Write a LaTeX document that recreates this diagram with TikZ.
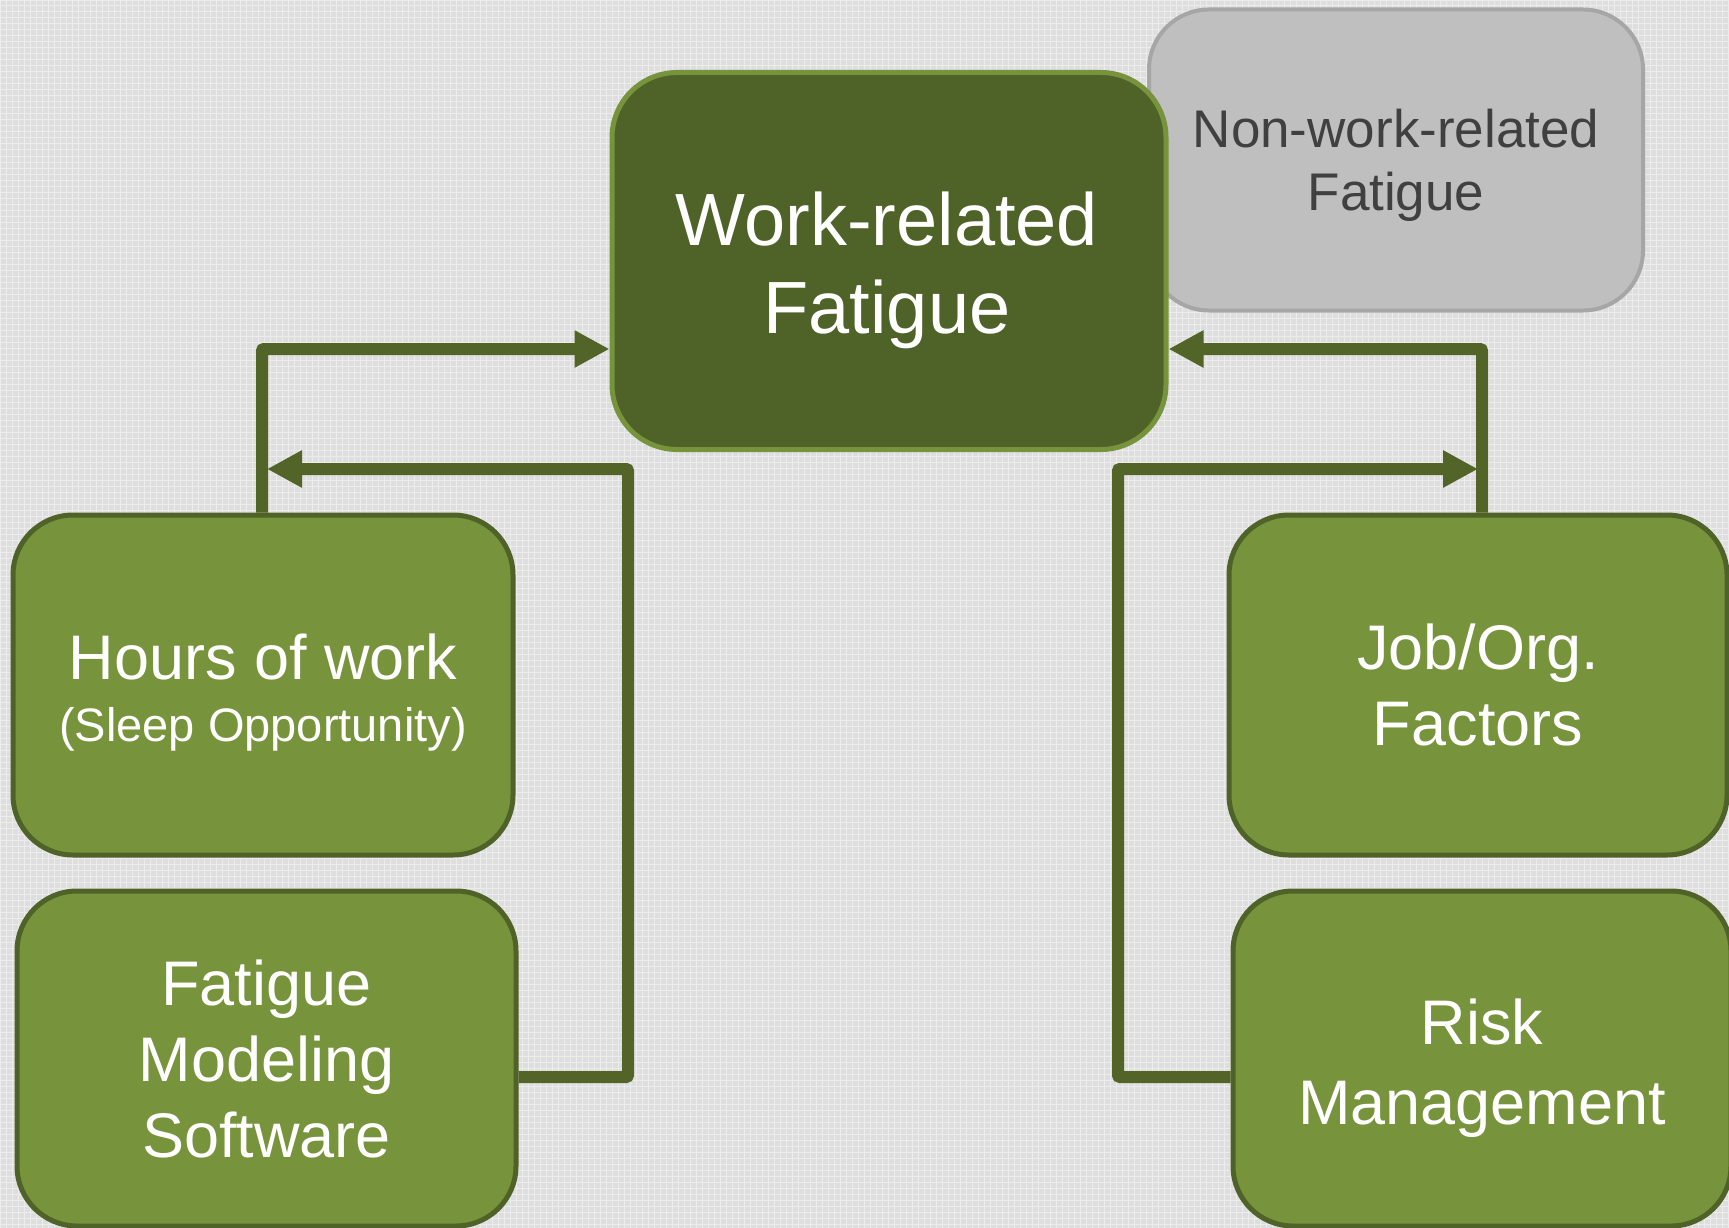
\documentclass[tikz,border=0pt]{standalone}
\usepackage{fontspec}
\setmainfont{Liberation Sans}
\usetikzlibrary{arrows.meta,calc}
\definecolor{darkol}{HTML}{4F6228}
\definecolor{midgr}{HTML}{77933C}
\definecolor{conncol}{HTML}{526428}
\definecolor{bggray}{HTML}{DEDEDE}
\definecolor{nwfill}{HTML}{BFBFBF}
\definecolor{nwdraw}{HTML}{A6A6A6}
\definecolor{nwtext}{HTML}{404040}
\begin{document}
\begin{tikzpicture}[x=1pt,y=-1pt,
  box/.style={rounded corners=60pt, line width=5pt, inner sep=0pt},
  greenbox/.style={box, fill=midgr, draw=darkol},
  txt/.style={align=center, inner sep=0pt, text=white},
  conn/.style={draw=conncol, line width=12pt, rounded corners=2pt, -{Triangle[length=35pt,width=35pt]}}]
\useasboundingbox (0,0) rectangle (1729,1228);
\fill[bggray] (0,0) rectangle (1729,1228);
\draw[white, opacity=0.45, line width=1pt, step=6pt] (0,0) grid (1729,1228);

% boxes
\node[box, fill=nwfill, draw=nwdraw, line width=4pt,
      minimum width=494pt, minimum height=301pt] (nonwork) at (1396,160) {};
\node[box, fill=darkol, draw=midgr, rounded corners=65pt,
      minimum width=554pt, minimum height=377pt] (work) at (889,261) {};
\node[greenbox, minimum width=500pt, minimum height=340pt] (hours) at (263,685) {};
\node[greenbox, minimum width=499pt, minimum height=335pt] (model) at (266.5,1058.5) {};
\node[greenbox, minimum width=498pt, minimum height=340pt] (job) at (1478,685) {};
\node[greenbox, minimum width=498pt, minimum height=335pt] (risk) at (1482,1058.5) {};

% texts
\node[txt, text=nwtext, font=\fontsize{53}{63}\selectfont] (nonworktxt)
      at ($(nonwork.center)+(0,5)$) {Non-work-related\\Fatigue};
\node[txt, font=\fontsize{74}{88}\selectfont] (worktxt)
      at ($(work.center)+(-2,9)$) {Work-related\\Fatigue};
\node[txt, font=\fontsize{63}{62}\selectfont] (hourstxt)
      at ($(hours.center)+(0,8)$) {Hours of work\\{\fontsize{47}{55}\selectfont (Sleep Opportunity)}};
\node[txt, font=\fontsize{63}{76}\selectfont] (modeltxt)
      at (model.center) {Fatigue\\Modeling\\Software};
\node[txt, font=\fontsize{63}{76}\selectfont] (jobtxt)
      at (job.center) {Job/Org.\\Factors};
\node[txt, font=\fontsize{63}{80}\selectfont] (risktxt)
      at ($(risk.center)+(0,10)$) {Risk\\Management};

% helper coordinates
\coordinate (ytop) at (0,349);
\coordinate (ymid) at (0,469);
\coordinate (lout) at (0,1077);
\coordinate (lbend) at (628,469);
\coordinate (rbend) at (1118,469);

% connectors
\draw[conn] ([xshift=-1pt]hours.north) |- (work.west |- ytop);
\draw[conn] (model.east |- lout) -| (lbend) -- ([xshift=4pt]hours.north |- ymid);
\draw[conn] ([xshift=4pt]job.north) |- (work.east |- ytop);
\draw[conn] (risk.west |- lout) -| (rbend) -- (job.north |- ymid);
\end{tikzpicture}
\end{document}
